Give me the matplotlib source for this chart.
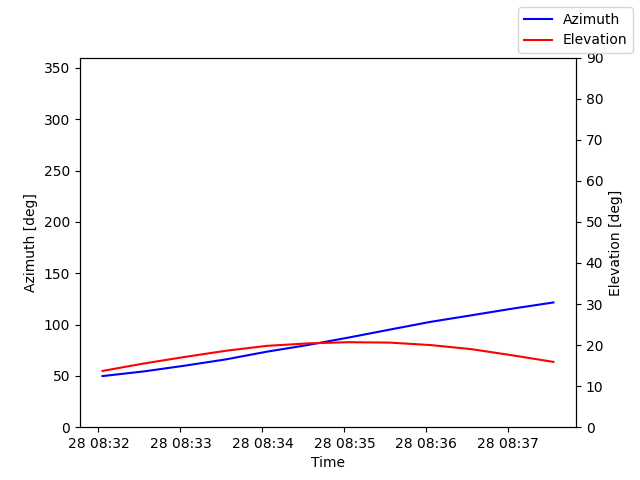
import datetime as dt
import matplotlib
matplotlib.use("Agg")
import matplotlib.pyplot as plt

# pass samples, every 30 s
start = dt.datetime(2023, 5, 28, 8, 32, 3)
times = [start + dt.timedelta(seconds=30 * i) for i in range(12)]
azimuth = [49.8, 54.3, 59.9, 66.0, 73.5, 80.0, 87.3, 95.0, 102.6, 109.0, 115.5, 121.5]
elevation = [13.7, 15.5, 17.1, 18.6, 19.8, 20.4, 20.7, 20.6, 20.0, 19.0, 17.5, 15.9]

fig, ax1 = plt.subplots(figsize=(6.4, 4.8), dpi=100)
ax1.plot(times, azimuth, color="blue", label="Azimuth")
ax1.set_ylim(0, 360)
ax1.set_ylabel("Azimuth [deg]")
ax1.set_xlabel("Time")

ax2 = ax1.twinx()
ax2.plot(times, elevation, color="red", label="Elevation")
ax2.set_ylim(0, 90)
ax2.set_ylabel("Elevation [deg]")

fig.legend()
plt.savefig("out.png")
